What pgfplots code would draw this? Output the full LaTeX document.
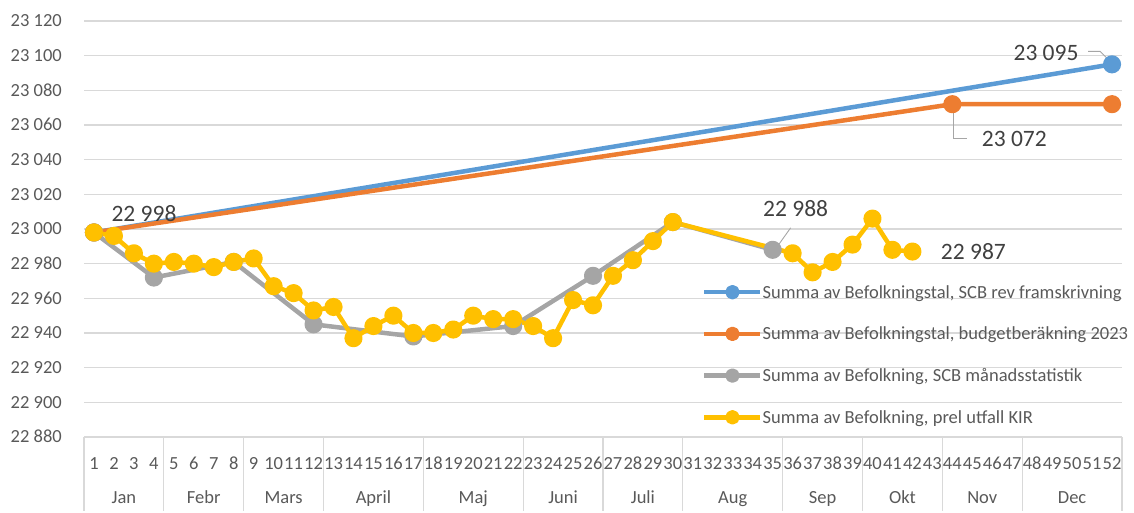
\documentclass[border=0pt]{standalone}
\usepackage{pgfplots}
\pgfplotsset{compat=1.18}
\usepackage{fontspec}
\setmainfont{Carlito}
\definecolor{cblue}{HTML}{5B9BD5}
\definecolor{corange}{HTML}{ED7D31}
\definecolor{cgray}{HTML}{A5A5A5}
\definecolor{cyellow}{HTML}{FFC000}
\definecolor{ctext}{HTML}{595959}
\definecolor{clabel}{HTML}{404040}
\definecolor{cgrid}{HTML}{D9D9D9}
\definecolor{cleader}{HTML}{A6A6A6}
\begin{document}
\begin{tikzpicture}
\useasboundingbox (0,0) rectangle (1134bp,513bp);
\begin{axis}[
  at={(84bp,76bp)}, anchor=south west,
  scale only axis, width=1038bp, height=416bp,
  xmin=0.5, xmax=52.5, ymin=22880, ymax=23120,
  clip=false,
  axis line style={draw=none},
  major tick length=0pt,
  scaled y ticks=false,
  /pgf/number format/assume math mode=true,
  ymajorgrids, major grid style={cgrid, line width=1.2bp},
  xtick={1,...,52},
  ytick={22880,22900,...,23120},
  yticklabels={22 880,22 900,22 920,22 940,22 960,22 980,23 000,23 020,23 040,23 060,23 080,23 100,23 120},
  tick label style={font=\fontsize{18.5bp}{22bp}\selectfont, text=ctext, inner sep=0pt},
  yticklabel style={anchor=base east, xshift=-22bp, yshift=-5.9bp},
  xticklabel style={anchor=base, yshift=-32bp},
  legend style={at={(axis description cs:0.5954,0.363)}, anchor=north west,
    draw=none, fill=none, inner sep=0pt, row sep=29.7bp,
    font=\fontsize{18.5bp}{22bp}\selectfont, text=ctext,
    nodes={inner sep=0pt, text height=12bp, text depth=0bp, xshift=4bp}},
  legend cell align=left,
  legend image code/.code={\draw[mark repeat=2,mark phase=2,mark size=5bp] plot coordinates {(0pt,0pt) (28bp,0pt) (56bp,0pt)};},
  every axis plot/.append style={line width=4.5bp, line join=round, mark=*, mark size=6.8bp},
]
\addplot[cblue, mark options={draw=none, fill=cblue}] coordinates {(1,22998) (52,23095)};
\addlegendentry{Summa av Befolkningstal, SCB rev framskrivning}
\addplot[corange, mark options={draw=none, fill=corange}] coordinates {(1,22998) (44,23072) (52,23072)};
\addlegendentry{Summa av Befolkningstal, budgetberäkning 2023}
\addplot[cgray, mark options={draw=none, fill=cgray}] coordinates {(1,22998) (4,22972) (8,22981) (12,22945) (17,22938) (22,22944) (26,22973) (30,23004) (35,22988)};
\addlegendentry{Summa av Befolkning, SCB månadsstatistik}
\addplot[cyellow, mark options={draw=none, fill=cyellow}] coordinates {
(1,22998) (2,22996) (3,22986) (4,22980) (5,22981) (6,22980) (7,22978) (8,22981)
(9,22983) (10,22967) (11,22963) (12,22953) (13,22955) (14,22937) (15,22944) (16,22950)
(17,22940) (18,22940) (19,22942) (20,22950) (21,22948) (22,22948) (23,22944) (24,22937)
(25,22959) (26,22956) (27,22973) (28,22982) (29,22993) (30,23004)
(36,22986) (37,22975) (38,22981) (39,22991) (40,23006) (41,22988) (42,22987)};
\addlegendentry{Summa av Befolkning, prel utfall KIR}
% month separators
\pgfplotsinvokeforeach{0.5,4.5,8.5,12.5,17.5,22.5,26.5,30.5,35.5,39.5,43.5,47.5,52.5}{
  \draw[cgrid, line width=1.2bp] (axis cs:#1,22880) -- ([yshift=-74bp]axis cs:#1,22880);
}
% month labels
\tikzset{mlab/.style={anchor=base, inner sep=0pt, yshift=-66bp, font=\fontsize{18.5bp}{22bp}\selectfont, text=ctext}}
\node[mlab] at (axis cs:2.5,22880) {Jan};
\node[mlab] at (axis cs:6.5,22880) {Febr};
\node[mlab] at (axis cs:10.5,22880) {Mars};
\node[mlab] at (axis cs:15,22880) {April};
\node[mlab] at (axis cs:20,22880) {Maj};
\node[mlab] at (axis cs:24.5,22880) {Juni};
\node[mlab] at (axis cs:28.5,22880) {Juli};
\node[mlab] at (axis cs:33,22880) {Aug};
\node[mlab] at (axis cs:37.5,22880) {Sep};
\node[mlab] at (axis cs:41.5,22880) {Okt};
\node[mlab] at (axis cs:45.5,22880) {Nov};
\node[mlab] at (axis cs:50,22880) {Dec};
% data labels
\tikzset{dlab/.style={anchor=base, inner sep=0pt, font=\fontsize{23.5bp}{28bp}\selectfont, text=clabel}}
\node[dlab, xshift=50bp, yshift=10.6bp] at (axis cs:1,22998) {22 998};
\node[dlab, xshift=-66bp, yshift=3.6bp] at (axis cs:52,23095) {23 095};
\node[dlab, xshift=62bp, yshift=-42.4bp] at (axis cs:44,23072) {23 072};
\node[dlab, xshift=23bp, yshift=33.6bp] at (axis cs:35,22988) {22 988};
\node[dlab, xshift=61bp, yshift=-8.4bp] at (axis cs:42,22987) {22 987};
% leader lines
\draw[cleader, line width=0.9bp] ([xshift=-1bp,yshift=2bp]axis cs:52,23095) -- ([xshift=-12bp,yshift=13bp]axis cs:52,23095) -- ([xshift=-24bp,yshift=13bp]axis cs:52,23095);
\draw[cleader, line width=0.9bp] ([xshift=1bp,yshift=-1bp]axis cs:44,23072) -- ([xshift=1bp,yshift=-34bp]axis cs:44,23072) -- ([xshift=15bp,yshift=-34bp]axis cs:44,23072);
\draw[cleader, line width=0.9bp] ([xshift=3bp,yshift=1bp]axis cs:35,22988) -- ([xshift=18bp,yshift=22bp]axis cs:35,22988);
\end{axis}
\end{tikzpicture}
\end{document}
